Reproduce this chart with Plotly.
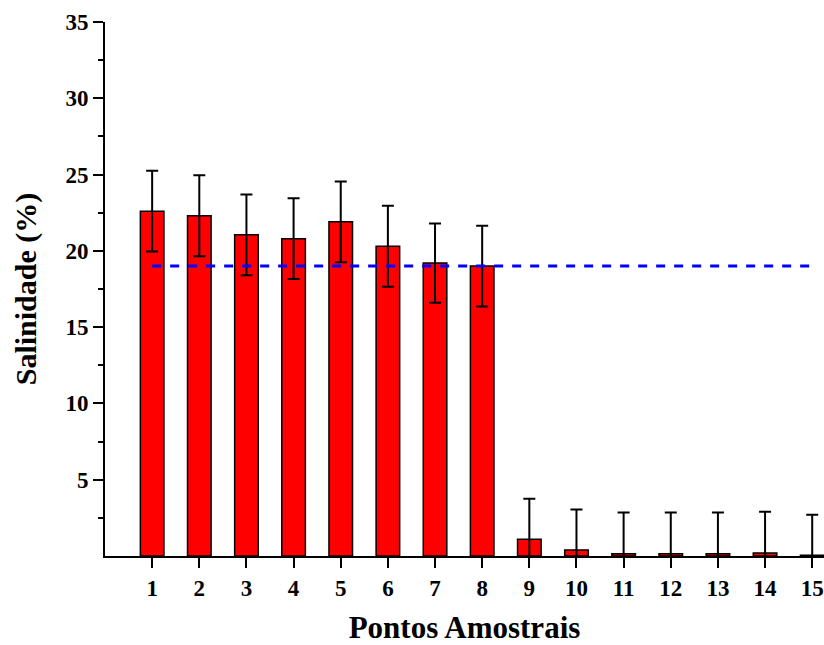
import plotly.graph_objects as go

categories = list(range(1, 16))
salinity = [22.6, 22.3, 21.05, 20.8, 21.9, 20.3, 19.2, 19.0, 1.1, 0.4, 0.15, 0.15, 0.15, 0.2, 0.05]
errors = [2.65, 2.65, 2.65, 2.65, 2.65, 2.65, 2.6, 2.65, 2.65, 2.65, 2.7, 2.7, 2.7, 2.7, 2.65]
ref_x = [1, 15]
ref_y = [19, 19]
y_ticks = [5, 10, 15, 20, 25, 30, 35]
y_minor = [2.5, 7.5, 12.5, 17.5, 22.5, 27.5, 32.5]

font = "Liberation Serif, Times New Roman, serif"

fig = go.Figure()
fig.add_trace(go.Bar(
    x=categories, y=salinity, width=0.5,
    marker=dict(color="#FF0000", line=dict(color="black", width=1.5)),
    error_y=dict(type="data", array=errors, visible=True, color="black", thickness=2, width=6),
    showlegend=False,
))
fig.add_trace(go.Scatter(
    x=ref_x, y=ref_y, mode="lines",
    line=dict(color="#0000FF", width=3, dash="dash"),
    showlegend=False,
))

fig.update_layout(
    width=824, height=645,
    margin=dict(l=105, r=0, t=22, b=89),
    plot_bgcolor="white", paper_bgcolor="white",
    font=dict(family=font, color="black"),
    xaxis=dict(
        range=[0, 15.25], tickvals=categories, ticktext=[str(c) for c in categories],
        ticks="outside", ticklen=10, tickwidth=2, tickcolor="black",
        showline=True, linecolor="black", linewidth=2, showgrid=False, zeroline=False,
        tickfont=dict(size=23, family=font, weight="bold"),
        title=dict(text="<b>Pontos Amostrais</b>", font=dict(size=31, family=font), standoff=20),
    ),
    yaxis=dict(
        range=[0, 35], tickvals=y_ticks,
        ticks="outside", ticklen=10, tickwidth=2, tickcolor="black",
        minor=dict(tickvals=y_minor, ticks="outside", ticklen=5, tickwidth=2, tickcolor="black"),
        showline=True, linecolor="black", linewidth=2, showgrid=False, zeroline=False,
        tickfont=dict(size=23, family=font, weight="bold"),
        title=dict(text="<b>Salinidade (%)</b>", font=dict(size=30, family=font), standoff=20),
    ),
)

fig.write_html(
    "out.html",
    config={"displayModeBar": False},
    post_script="document.body.style.margin='0px';document.body.style.overflow='hidden';",
)
